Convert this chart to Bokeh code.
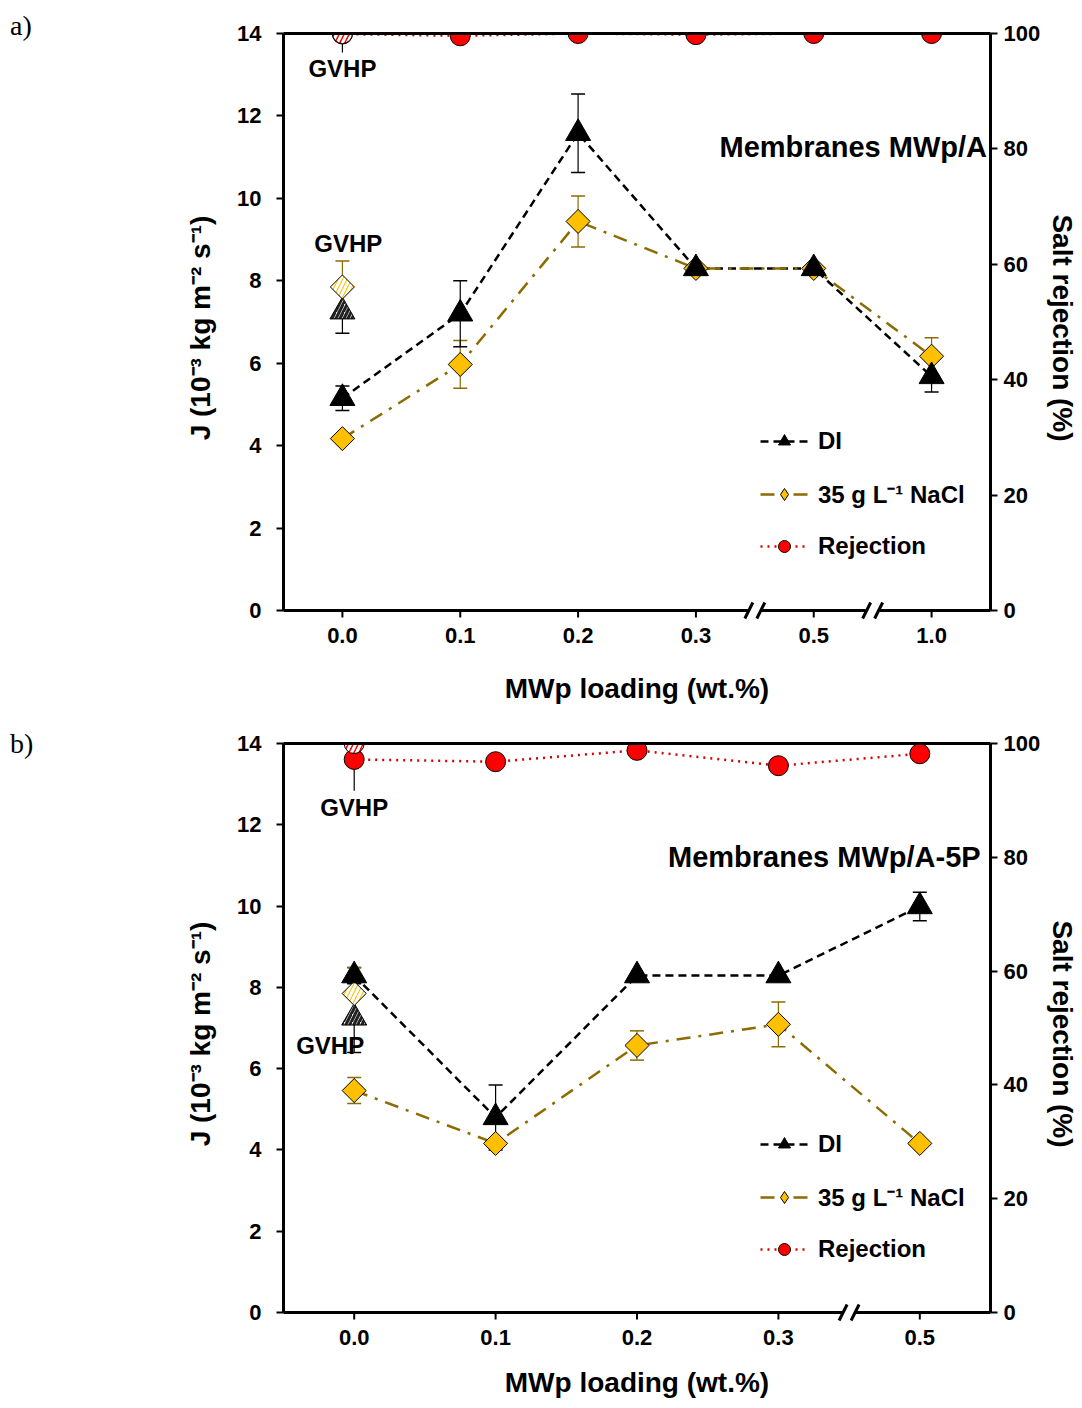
from bokeh.plotting import figure
from bokeh.models import (ColumnDataSource, Range1d, LinearAxis, FixedTicker, Whisker, TeeHead,
                          Legend, LegendItem, Label, Div)
from bokeh.layouts import column, row
from bokeh.embed import file_html
from bokeh.resources import INLINE

FONT = "Liberation Sans"

# ---------------- data: panel a (Membranes MWp/A) ----------------
load_a = ["0.0", "0.1", "0.2", "0.3", "0.5", "1.0"]
di_a = [5.15, 7.2, 11.58, 8.3, 8.3, 5.68]
di_err_a = [0.3, 0.8, 0.95, 0.0, 0.0, 0.38]
nacl_a = [4.17, 5.97, 9.44, 8.3, 8.3, 6.17]
nacl_err_a = [0.0, 0.58, 0.62, 0.0, 0.0, 0.45]
rej_a = [99.9, 99.6, 100.0, 99.8, 100.0, 100.0]
rej_err_a = [3.2, 0, 0, 0, 0, 0]

# ---------------- data: panel b (Membranes MWp/A-5P) ----------------
load_b = ["0.0", "0.1", "0.2", "0.3", "0.5"]
di_b = [8.29, 4.8, 8.29, 8.29, 9.99]
di_err_b = [0.2, 0.8, 0.0, 0.0, 0.35]
nacl_b = [5.46, 4.16, 6.57, 7.09, 4.16]
nacl_err_b = [0.32, 0.0, 0.36, 0.55, 0.0]
rej_b = [97.2, 96.8, 98.8, 96.1, 98.2]
rej_err_b = [5.5, 0, 0, 0, 0]

# ---------------- GVHP reference membrane ----------------
gvhp_di = 7.25
gvhp_di_err_a = 0.52
gvhp_di_err_b = 0.85
gvhp_nacl = 7.85
gvhp_nacl_err = 0.63
gvhp_rej = 100.0

J_TICKS = [0, 2, 4, 6, 8, 10, 12, 14]
REJ_TICKS = [0, 20, 40, 60, 80, 100]

BLACK = "#000000"
OLIVE = "#8c6b00"
GOLD = "#ffc000"
RED = "#ff0000"
DRED = "#d40000"
DIAMOND_ANGLE = 0.7853981633974483
PAD_PX = 12.0  # white strip below the x axis line, inside the frame


def panel(loads, di, di_err, nacl, nacl_err, rej, rej_err, gvhp_di_err, title, breaks,
          height, top_border, axis_h, xlabel_standoff, legend_bottom, lbl_top, lbl_mid, lbl_title):
    n = len(loads)
    xs = list(range(n))
    pxy = axis_h / 14.0
    pxx = 707.0 / n
    d = PAD_PX / pxy
    frame_h = axis_h + PAD_PX
    p = figure(width=1042, height=height, output_backend="svg", toolbar_location=None,
               x_range=Range1d(-0.5, n - 0.5), y_range=Range1d(-d, 14),
               min_border_left=243, min_border_right=92, min_border_top=top_border,
               min_border_bottom=height - top_border - int(frame_h))
    p.outline_line_color = None
    p.grid.visible = False
    p.background_fill_color = "white"
    p.border_fill_color = "white"
    p.extra_y_ranges = {"rej": Range1d(-d * 100 / 14.0, 100)}

    def style_axis(ax):
        ax.axis_line_width = 3
        ax.axis_line_color = BLACK
        ax.major_tick_line_width = 2
        ax.major_tick_line_color = BLACK
        ax.major_tick_out = 7
        ax.major_tick_in = 0
        ax.minor_tick_line_color = None
        ax.major_label_text_font = FONT
        ax.major_label_text_font_style = "bold"
        ax.major_label_text_font_size = "22px"
        ax.major_label_text_color = BLACK
        ax.axis_label_text_font = FONT
        ax.axis_label_text_font_style = "bold"
        ax.axis_label_text_font_size = "28px"
        ax.axis_label_text_color = BLACK

    # bottom axis: labels only (line and ticks drawn at y=0 below, with breaks)
    xa = p.xaxis[0]
    style_axis(xa)
    xa.axis_line_color = None
    xa.major_tick_line_color = None
    xa.major_tick_out = 0
    xa.ticker = FixedTicker(ticks=xs)
    xa.major_label_overrides = {i: lab for i, lab in enumerate(loads)}
    xa.axis_label = "MWp loading (wt.%)"
    xa.major_label_standoff = 5
    xa.axis_label_standoff = xlabel_standoff

    # left axis
    ya = p.yaxis[0]
    style_axis(ya)
    ya.ticker = FixedTicker(ticks=J_TICKS)
    ya.bounds = (0, 14)
    ya.axis_label = "J (10⁻³ kg m⁻² s⁻¹)"
    ya.major_label_standoff = 15
    ya.axis_label_standoff = 18

    # right axis
    ra = LinearAxis(y_range_name="rej", ticker=FixedTicker(ticks=REJ_TICKS),
                    axis_label="Salt rejection (%)", bounds=(0, 100))
    style_axis(ra)
    ra.major_label_standoff = 6
    ra.axis_label_standoff = 4
    p.add_layout(ra, "right")

    # top frame line
    ta = LinearAxis(ticker=FixedTicker(ticks=[]), major_label_text_font_size="0px")
    ta.axis_line_width = 3
    ta.axis_line_color = BLACK
    ta.major_tick_line_color = None
    ta.minor_tick_line_color = None
    p.add_layout(ta, "above")

    # x axis line at y=0 with break marks, plus its tick marks
    x0 = [-0.5 - 2 / pxx]
    x1 = []
    for b in breaks:
        x1.append(b - 7 / pxx)
        x0.append(b + 7 / pxx)
    x1.append(n - 0.5 + 2 / pxx)
    p.segment(x0=x0, y0=[0] * len(x0), x1=x1, y1=[0] * len(x1), line_color=BLACK, line_width=3)
    p.segment(x0=xs, y0=[0] * n, x1=xs, y1=[-7 / pxy] * n, line_color=BLACK, line_width=2)
    sx0, sy0, sx1, sy1 = [], [], [], []
    for b in breaks:
        for off in (-6, 6):
            c = b + off / pxx
            sx0.append(c - 4 / pxx)
            sy0.append(-8 / pxy)
            sx1.append(c + 4 / pxx)
            sy1.append(8 / pxy)
    if sx0:
        p.segment(x0=sx0, y0=sy0, x1=sx1, y1=sy1, line_color=BLACK, line_width=3)

    src = ColumnDataSource(dict(
        x=xs, di=di, di_lo=[v - e for v, e in zip(di, di_err)], di_hi=[v + e for v, e in zip(di, di_err)],
        nacl=nacl, nacl_lo=[v - e for v, e in zip(nacl, nacl_err)], nacl_hi=[v + e for v, e in zip(nacl, nacl_err)],
        rej=rej, rej_lo=[v - e for v, e in zip(rej, rej_err)], rej_hi=[min(v + e, 100) for v, e in zip(rej, rej_err)],
    ))

    # error bars
    p.add_layout(Whisker(source=src, base="x", lower="nacl_lo", upper="nacl_hi", line_color=OLIVE,
                         line_width=1.2,
                         lower_head=TeeHead(size=14, line_color=OLIVE, line_width=1.5),
                         upper_head=TeeHead(size=14, line_color=OLIVE, line_width=1.5)))
    p.add_layout(Whisker(source=src, base="x", lower="di_lo", upper="di_hi", line_color=BLACK,
                         line_width=1.2,
                         lower_head=TeeHead(size=14, line_color=BLACK, line_width=1.5),
                         upper_head=TeeHead(size=14, line_color=BLACK, line_width=1.5)))
    p.add_layout(Whisker(source=src, base="x", lower="rej_lo", upper="rej_hi", y_range_name="rej",
                         line_color=BLACK, line_width=1.2, lower_head=None, upper_head=None))

    # GVHP error bars
    gsrc = ColumnDataSource(dict(x=[0], dlo=[gvhp_di - gvhp_di_err], dhi=[gvhp_di + gvhp_di_err],
                                 nlo=[gvhp_nacl - gvhp_nacl_err], nhi=[gvhp_nacl + gvhp_nacl_err]))
    p.add_layout(Whisker(source=gsrc, base="x", lower="nlo", upper="nhi", line_color=OLIVE, line_width=1.2,
                         lower_head=TeeHead(size=14, line_color=OLIVE, line_width=1.5),
                         upper_head=TeeHead(size=14, line_color=OLIVE, line_width=1.5)))
    p.add_layout(Whisker(source=gsrc, base="x", lower="dlo", upper="dhi", line_color=BLACK, line_width=1.2,
                         lower_head=TeeHead(size=14, line_color=BLACK, line_width=1.5),
                         upper_head=TeeHead(size=14, line_color=BLACK, line_width=1.5)))

    # lines
    l_di = p.line("x", "di", source=src, line_color=BLACK, line_width=2.5, line_dash="8 5")
    l_na = p.line("x", "nacl", source=src, line_color=OLIVE, line_width=2.5, line_dash="14 8 3 8")
    l_rj = p.line("x", "rej", source=src, line_color=DRED, line_width=2.5, line_dash="2 5",
                  y_range_name="rej")

    # GVHP markers (hatched)
    p.scatter([0], [gvhp_di], marker="triangle", size=25, fill_color="#e8e8e8", line_color=BLACK,
              line_width=1, hatch_pattern="/", hatch_color="#222222", hatch_scale=8, hatch_weight=3)
    p.scatter([0], [gvhp_nacl], marker="square", angle=DIAMOND_ANGLE, size=17, fill_color=GOLD,
              line_color=BLACK, line_width=1, hatch_pattern="/", hatch_color="white", hatch_scale=9,
              hatch_weight=3)

    # markers
    p.scatter("x", "nacl", source=src, marker="square", angle=DIAMOND_ANGLE, size=17,
              fill_color=GOLD, line_color=BLACK, line_width=1)
    m_di = p.scatter("x", "di", source=src, marker="triangle", size=25, fill_color=BLACK,
                     line_color=BLACK)
    m_rj = p.scatter("x", "rej", source=src, marker="circle", size=20, fill_color=RED,
                     line_color=BLACK, line_width=1, y_range_name="rej")
    p.scatter([0], [gvhp_rej], marker="circle", size=20, fill_color=RED, line_color=BLACK, line_width=1,
              hatch_pattern="/", hatch_color="white", hatch_scale=10, hatch_weight=3, y_range_name="rej")
    # legend-only diamond (placed outside the visible ranges)
    m_na_leg = p.scatter(x=[-10], y=[-10], marker="diamond", size=22, fill_color=GOLD,
                         line_color=BLACK, line_width=1)

    # legend
    leg = Legend(items=[LegendItem(label="DI", renderers=[l_di, m_di]),
                        LegendItem(label="35 g L⁻¹ NaCl", renderers=[l_na, m_na_leg]),
                        LegendItem(label="Rejection", renderers=[l_rj, m_rj])],
                 location=(477, legend_bottom + PAD_PX), padding=0, margin=0, spacing=21,
                 glyph_width=48, glyph_height=30, label_height=30, label_standoff=10,
                 label_text_font=FONT, label_text_font_style="bold", label_text_font_size="24px",
                 label_text_color=BLACK, background_fill_alpha=0, border_line_color=None)
    p.add_layout(leg, "center")

    # labels
    def lab(x, y, t, align, size):
        p.add_layout(Label(x=x, y=y, text=t, text_font=FONT, text_font_style="bold",
                           text_font_size=size, text_align=align, text_baseline="middle",
                           text_color=BLACK))
    lab(lbl_top[0], lbl_top[1], "GVHP", "center", "24px")
    lab(lbl_mid[0], lbl_mid[1], "GVHP", "center", "24px")
    lab(lbl_title[0], lbl_title[1], title, "right", "29px")
    return p


pa = panel(load_a, di_a, di_err_a, nacl_a, nacl_err_a, rej_a, rej_err_a, gvhp_di_err_a,
           "Membranes MWp/A", [3.5, 4.5], 718, 33, 577.0, 27, 49,
           (0.0, 13.15), (0.05, 8.9), (5.47, 11.24))
pb = panel(load_b, di_b, di_err_b, nacl_b, nacl_err_b, rej_b, rej_err_b, gvhp_di_err_b,
           "Membranes MWp/A-5P", [3.5], 688, 25, 569.0, 19, 48,
           (0.0, 12.43), (-0.17, 6.57), (4.43, 11.2))

div_style = {"font-family": "Liberation Serif", "font-size": "28px", "padding-top": "6px",
             "padding-left": "10px"}
da = Div(text="a)", width=40, height=40, margin=(0, 0, 0, 0), styles=div_style)
db = Div(text="b)", width=40, height=40, margin=(0, 0, 0, 0), styles=div_style)

layout = column(row(da, pa, spacing=0), row(db, pb, spacing=0), spacing=0)

open("out.html", "w").write(file_html(layout, INLINE))
